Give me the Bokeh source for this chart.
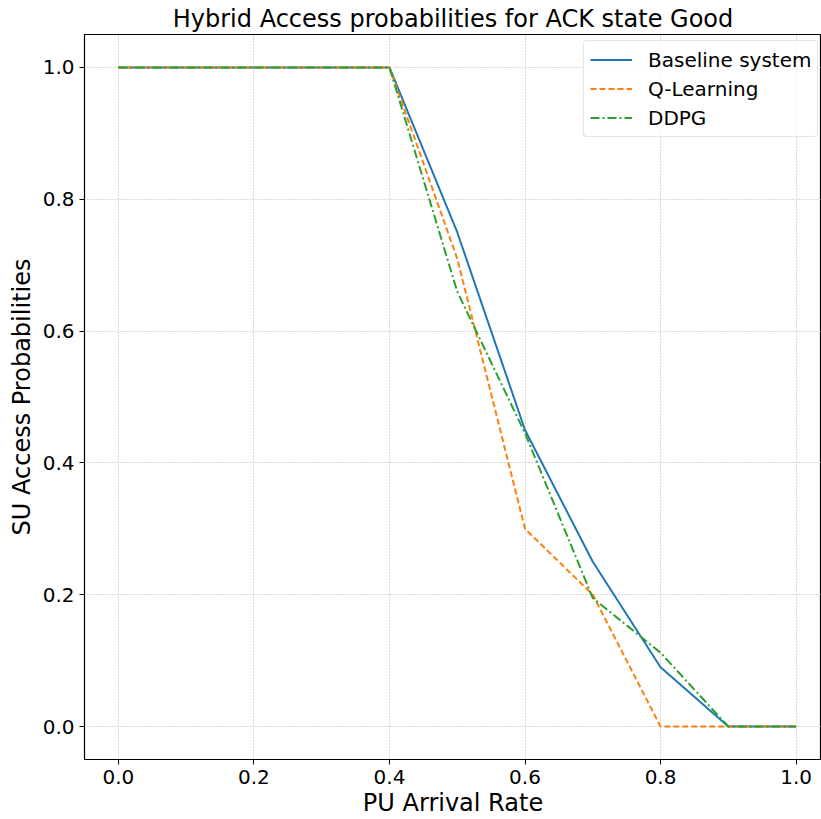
from bokeh.plotting import figure
from bokeh.embed import file_html
from bokeh.resources import INLINE
from bokeh.models import Range1d, Legend, LegendItem, FixedTicker, NumeralTickFormatter

pu_rate = [0.0, 0.1, 0.2, 0.3, 0.4, 0.5, 0.6, 0.7, 0.8, 0.9, 1.0]
baseline = [1.0, 1.0, 1.0, 1.0, 1.0, 0.75, 0.45, 0.25, 0.09, 0.0, 0.0]
q_learning = [1.0, 1.0, 1.0, 1.0, 1.0, 0.71, 0.30, 0.20, 0.0, 0.0, 0.0]
ddpg = [1.0, 1.0, 1.0, 1.0, 1.0, 0.66, 0.445, 0.195, 0.112, 0.0, 0.0]
ticks = [0.0, 0.2, 0.4, 0.6, 0.8, 1.0]

FONT = "DejaVu Sans"

p = figure(width=821, height=819, output_backend="svg", toolbar_location=None,
           x_range=Range1d(-0.05, 1.0375), y_range=Range1d(-0.05, 1.05),
           title="Hybrid Access probabilities for ACK state Good")
p.min_border_left = 84
p.min_border_right = 0
p.min_border_top = 34
p.min_border_bottom = 59
p.background_fill_color = "white"
p.border_fill_color = "white"
p.outline_line_color = "black"
p.outline_line_width = 1.2

p.title.text_font = FONT
p.title.text_font_size = "24px"
p.title.text_font_style = "normal"
p.title.align = "center"
p.title.text_color = "black"
p.title.standoff = 4

for ax in (p.xaxis[0], p.yaxis[0]):
    ax.ticker = FixedTicker(ticks=ticks)
    ax.formatter = NumeralTickFormatter(format="0.0")
    ax.major_label_text_font = FONT
    ax.major_label_text_font_size = "20px"
    ax.major_label_text_color = "black"
    ax.axis_label_text_font = FONT
    ax.axis_label_text_font_size = "24px"
    ax.axis_label_text_font_style = "normal"
    ax.axis_label_text_color = "black"
    ax.minor_tick_line_color = None
    ax.major_tick_in = 0
    ax.major_tick_out = 5
    ax.axis_line_color = "black"
    ax.major_tick_line_color = "black"

p.xaxis.axis_label = "PU Arrival Rate"
p.yaxis.axis_label = "SU Access Probabilities"
p.xaxis.major_label_standoff = 5
p.yaxis.major_label_standoff = 5
p.xaxis.axis_label_standoff = 2
p.yaxis.axis_label_standoff = 4

p.grid.grid_line_color = "#b0b0b0"
p.grid.grid_line_dash = "1 2"
p.grid.grid_line_width = 1

r1 = p.line(pu_rate, baseline, line_color="#1f77b4", line_width=2)
r2 = p.line(pu_rate, q_learning, line_color="#ff7f0e", line_width=2, line_dash="6 3")
r3 = p.line(pu_rate, ddpg, line_color="#2ca02c", line_width=2, line_dash="9 3 2 3")

legend = Legend(items=[
    LegendItem(label="Baseline system", renderers=[r1]),
    LegendItem(label="Q-Learning", renderers=[r2]),
    LegendItem(label="DDPG", renderers=[r3]),
], location=(499, 622))
legend.label_text_font = FONT
legend.label_text_font_size = "20px"
legend.label_text_color = "black"
legend.label_height = 25
legend.glyph_height = 25
legend.border_line_color = "#cccccc"
legend.border_line_width = 1
legend.background_fill_alpha = 0.8
legend.glyph_width = 42
legend.label_standoff = 16
legend.spacing = 4
legend.padding = 6
legend.margin = 0
if "border_radius" in Legend.properties():
    legend.border_radius = 4
p.add_layout(legend, "center")

open("out.html", "w").write(file_html(p, INLINE))
